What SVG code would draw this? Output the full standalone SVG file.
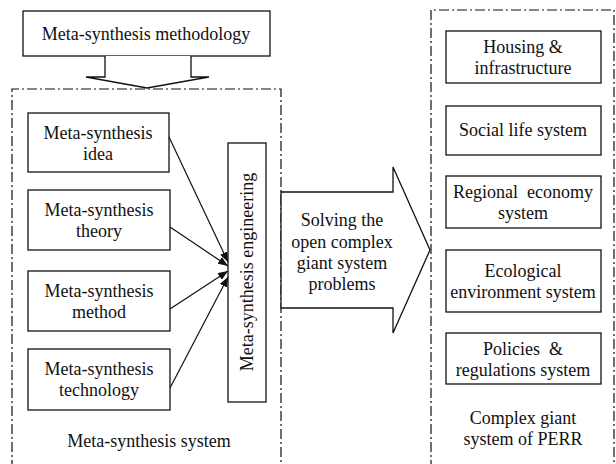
<svg xmlns="http://www.w3.org/2000/svg" width="616" height="464" viewBox="0 0 616 464">
  <style>
    .box { fill: #fff; stroke: #111; stroke-width: 1.3; }
    .frame { fill: none; stroke: #111; stroke-width: 1.2; stroke-dasharray: 10 3 2 3; }
    .bigarrow { fill: #fff; stroke: #111; stroke-width: 1.3; stroke-linejoin: miter; }
    .edge { fill: none; stroke: #111; stroke-width: 1.2; marker-end: url(#head); }
    text { font-family: "Liberation Serif", "Times New Roman", serif; font-size: 18px; fill: #111; text-anchor: middle; }
  </style>
  <defs>
    <marker id="head" viewBox="0 0 10 8" refX="10" refY="4" markerWidth="10" markerHeight="8" markerUnits="userSpaceOnUse" orient="auto">
      <path d="M0,0 L10,4 L0,8 Z" fill="#111"/>
    </marker>
  </defs>
  <rect width="616" height="464" fill="#fff"/>

  <!-- group frames -->
  <g id="system-frame">
    <path class="frame" d="M12,470 V89 H281 V470"/>
    <text x="149" y="447">Meta-synthesis system</text>
  </g>
  <g id="perr-frame">
    <path class="frame" d="M431,470 V10 H614 V470"/>
    <text x="523" y="424">Complex giant</text>
    <text x="523" y="445">system of PERR</text>
  </g>

  <!-- methodology -->
  <g id="methodology">
    <rect class="box" x="23" y="11" width="247" height="45"/>
    <text x="146" y="40">Meta-synthesis methodology</text>
  </g>
  <g id="down-arrow">
    <path class="bigarrow" d="M105,56 V77 H86 L147,88 L209,77 H191 V56"/>
  </g>

  <!-- components -->
  <g id="idea">
    <rect class="box" x="28" y="113" width="141" height="59"/>
    <text x="98" y="139">Meta-synthesis</text>
    <text x="98" y="160">idea</text>
  </g>
  <g id="theory">
    <rect class="box" x="28" y="190" width="142" height="60"/>
    <text x="99" y="216">Meta-synthesis</text>
    <text x="99" y="237">theory</text>
  </g>
  <g id="method">
    <rect class="box" x="28" y="271" width="142" height="60"/>
    <text x="99" y="297">Meta-synthesis</text>
    <text x="99" y="318">method</text>
  </g>
  <g id="technology">
    <rect class="box" x="28" y="349" width="142" height="61"/>
    <text x="99" y="375">Meta-synthesis</text>
    <text x="99" y="396">technology</text>
  </g>
  <g id="engineering">
    <rect class="box" x="228" y="143" width="38" height="259"/>
    <text transform="translate(253,272) rotate(-90)">Meta-synthesis engineering</text>
  </g>

  <!-- connectors -->
  <g id="connectors">
    <line class="edge" x1="169" y1="137" x2="228" y2="262"/>
    <line class="edge" x1="170" y1="227" x2="228" y2="266"/>
    <line class="edge" x1="170" y1="309" x2="228" y2="271"/>
    <line class="edge" x1="170" y1="388" x2="228" y2="277"/>
  </g>

  <!-- solving arrow -->
  <g id="solving">
    <path class="bigarrow" d="M281,192 H393 V167 L430,250 L393,333 V308 H281 Z"/>
    <text x="342" y="226">Solving the</text>
    <text x="342" y="248">open complex</text>
    <text x="342" y="269">giant system</text>
    <text x="342" y="290">problems</text>
  </g>

  <!-- PERR subsystems -->
  <g id="housing">
    <rect class="box" x="446" y="31" width="155" height="52"/>
    <text x="523" y="53">Housing &amp;</text>
    <text x="523" y="74">infrastructure</text>
  </g>
  <g id="social">
    <rect class="box" x="446" y="106" width="155" height="49"/>
    <text x="523" y="136">Social life system</text>
  </g>
  <g id="regional">
    <rect class="box" x="446" y="176" width="155" height="52"/>
    <text x="523" y="198" xml:space="preserve">Regional  economy</text>
    <text x="523" y="219">system</text>
  </g>
  <g id="ecological">
    <rect class="box" x="446" y="250" width="155" height="62"/>
    <text x="523" y="277">Ecological</text>
    <text x="523" y="298">environment system</text>
  </g>
  <g id="policies">
    <rect class="box" x="446" y="333" width="155" height="51"/>
    <text x="523" y="355" xml:space="preserve">Policies  &amp;</text>
    <text x="523" y="376">regulations system</text>
  </g>
</svg>
